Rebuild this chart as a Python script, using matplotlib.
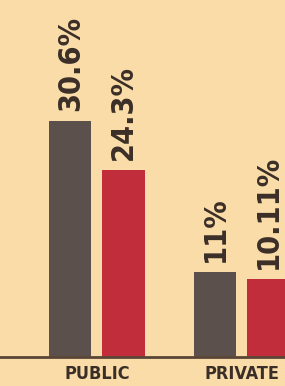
import matplotlib.pyplot as plt

# data
groups = ['PUBLIC', 'PRIVATE']
series_a = [30.6, 11.0]
series_b = [24.3, 10.11]
labels_a = ['30.6%', '11%']
labels_b = ['24.3%', '10.11%']

BG = '#f9dca7'
GRAY = '#5b504c'
RED = '#c12d3a'
INK = '#3a2e28'
FONT = 'DejaVu Sans'

fig = plt.figure(figsize=(2.85, 3.86), dpi=100, facecolor=BG)
ax = fig.add_axes([0, 29 / 386, 1, 357 / 386])
ax.set_facecolor(BG)

x = range(len(groups))
off = 0.183
w = 0.29
bars_a = ax.bar([i - off for i in x], series_a, width=w, color=GRAY)
bars_b = ax.bar([i + off for i in x], series_b, width=w, color=RED)

# rotated value labels above the bars
for bars, labs in [(bars_a, labels_a), (bars_b, labels_b)]:
    for b, lab in zip(bars, labs):
        ax.annotate(lab, (b.get_x() + b.get_width() / 2, b.get_height()),
                    xytext=(0, 7), textcoords='offset points',
                    rotation=90, ha='center', va='bottom',
                    fontsize=22, fontweight='bold', family=FONT,
                    fontstretch='condensed', color=INK,
                    annotation_clip=False)

ax.axhline(0, color='#5a4636', lw=2, clip_on=False)

for i, g in zip(x, groups):
    ax.text(i, -1.1, g, ha='center', va='top', fontsize=13,
            fontweight='bold', family=FONT, fontstretch='condensed', color=INK)

ax.set_xlim(-0.669, 1.297)
ax.set_ylim(0, 46.3)
ax.axis('off')

fig.savefig('out.png', dpi=100, facecolor=BG)
